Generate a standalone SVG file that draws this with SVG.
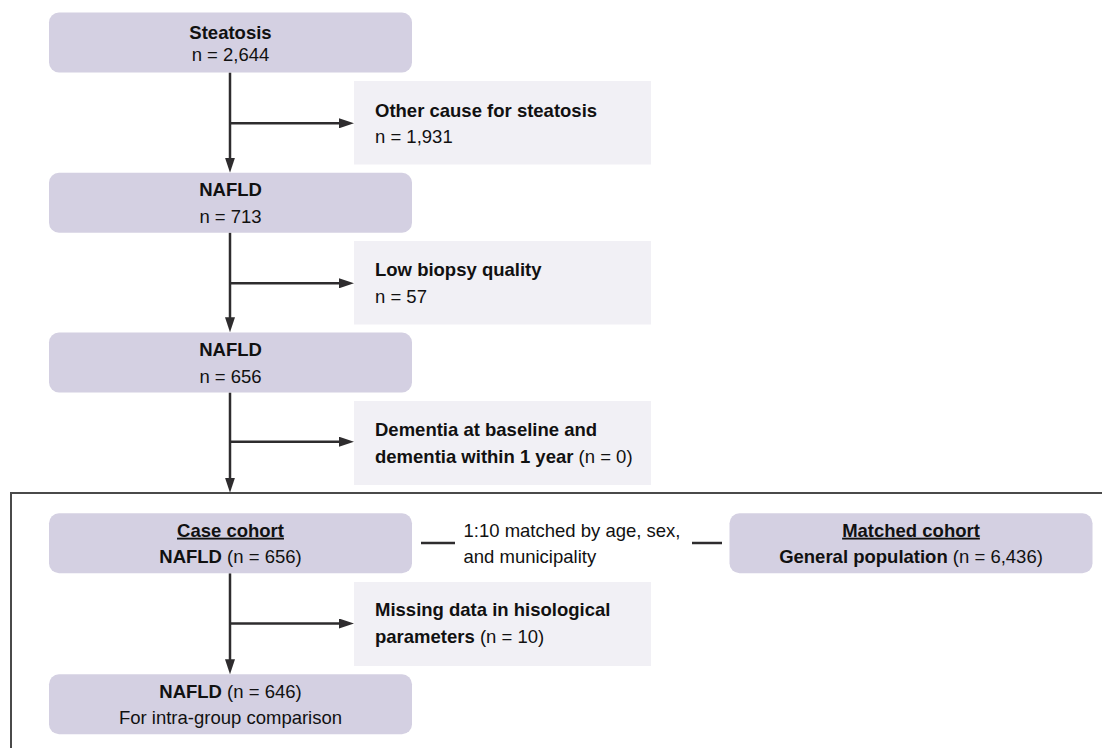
<svg xmlns="http://www.w3.org/2000/svg" width="1102" height="748" viewBox="0 0 1102 748">
<defs>
<style>
.main{fill:#d4d0e2}
.side{fill:#f1f0f5}
text{font-family:"Liberation Sans",Arial,sans-serif;font-size:18.5px;fill:#111}
.c{text-anchor:middle}
.b{font-weight:bold}
.u{text-decoration:underline}
.ln{stroke:#2e2c2e;stroke-width:2.5;fill:none}
.frame{stroke:#4a4a4a;stroke-width:2;fill:none}
</style>
<marker id="ah" markerUnits="userSpaceOnUse" markerWidth="15" markerHeight="10" refX="5" refY="5" orient="auto">
<path d="M0,0 L15,5 L0,10 z" fill="#2e2c2e"/>
</marker>
</defs>
<rect width="1102" height="748" fill="#fff"/>
<path class="frame" d="M11,748 V493 H1102"/>
<g id="connectors">
<line class="ln" x1="230" y1="72.5" x2="230" y2="162.7" marker-end="url(#ah)"/>
<line class="ln" x1="230" y1="123.3" x2="344" y2="123.3" marker-end="url(#ah)"/>
<line class="ln" x1="230" y1="232.5" x2="230" y2="322.3" marker-end="url(#ah)"/>
<line class="ln" x1="230" y1="283.3" x2="344" y2="283.3" marker-end="url(#ah)"/>
<line class="ln" x1="230" y1="392.5" x2="230" y2="482.7" marker-end="url(#ah)"/>
<line class="ln" x1="230" y1="441.7" x2="344" y2="441.7" marker-end="url(#ah)"/>
<line class="ln" x1="230" y1="573.3" x2="230" y2="664.3" marker-end="url(#ah)"/>
<line class="ln" x1="230" y1="623.5" x2="344" y2="623.5" marker-end="url(#ah)"/>
<line class="ln" x1="421" y1="543" x2="455" y2="543"/>
<line class="ln" x1="692" y1="543" x2="722" y2="543"/>
</g>
<g id="steatosis">
<rect class="main" x="49" y="12.5" width="363" height="60" rx="10"/>
<text class="c b" x="230.5" y="39">Steatosis</text>
<text class="c" x="230.5" y="61">n = 2,644</text>
</g>
<g id="other-cause">
<rect class="side" x="354" y="81" width="297" height="83.5"/>
<text class="b" x="375" y="116.7">Other cause for steatosis</text>
<text x="375" y="143.3">n = 1,931</text>
</g>
<g id="nafld-713">
<rect class="main" x="49" y="172.7" width="363" height="60" rx="10"/>
<text class="c b" x="230.5" y="196">NAFLD</text>
<text class="c" x="230.5" y="222.7">n = 713</text>
</g>
<g id="low-biopsy">
<rect class="side" x="354" y="241" width="297" height="83.5"/>
<text class="b" x="375" y="275.7">Low biopsy quality</text>
<text x="375" y="302.7">n = 57</text>
</g>
<g id="nafld-656">
<rect class="main" x="49" y="332.5" width="363" height="60" rx="10"/>
<text class="c b" x="230.5" y="356">NAFLD</text>
<text class="c" x="230.5" y="382.7">n = 656</text>
</g>
<g id="dementia">
<rect class="side" x="354" y="401" width="297" height="84"/>
<text class="b" x="375" y="435.7">Dementia at baseline and</text>
<text x="375" y="462.7"><tspan class="b">dementia within 1 year</tspan> (n = 0)</text>
</g>
<g id="case-cohort">
<rect class="main" x="49" y="513.3" width="363" height="60" rx="10"/>
<text class="c b u" x="230.5" y="536.7">Case cohort</text>
<text class="c" x="230.5" y="562.7"><tspan class="b">NAFLD</tspan> (n = 656)</text>
</g>
<g id="matching-label">
<text x="463.5" y="536.7">1:10 matched by age, sex,</text>
<text x="463.5" y="562.7">and municipality</text>
</g>
<g id="matched-cohort">
<rect class="main" x="729.5" y="513.3" width="363" height="60" rx="10"/>
<text class="c b u" x="911" y="536.7">Matched cohort</text>
<text class="c" x="911" y="562.7"><tspan class="b">General population</tspan> (n = 6,436)</text>
</g>
<g id="missing-data">
<rect class="side" x="354" y="582" width="297" height="84"/>
<text class="b" x="375" y="616">Missing data in hisological</text>
<text x="375" y="643.3"><tspan class="b">parameters</tspan> (n = 10)</text>
</g>
<g id="nafld-646">
<rect class="main" x="49" y="674.3" width="363" height="60" rx="10"/>
<text class="c" x="230.5" y="698.3"><tspan class="b">NAFLD</tspan> (n = 646)</text>
<text class="c" x="230.5" y="724">For intra-group comparison</text>
</g>
</svg>
